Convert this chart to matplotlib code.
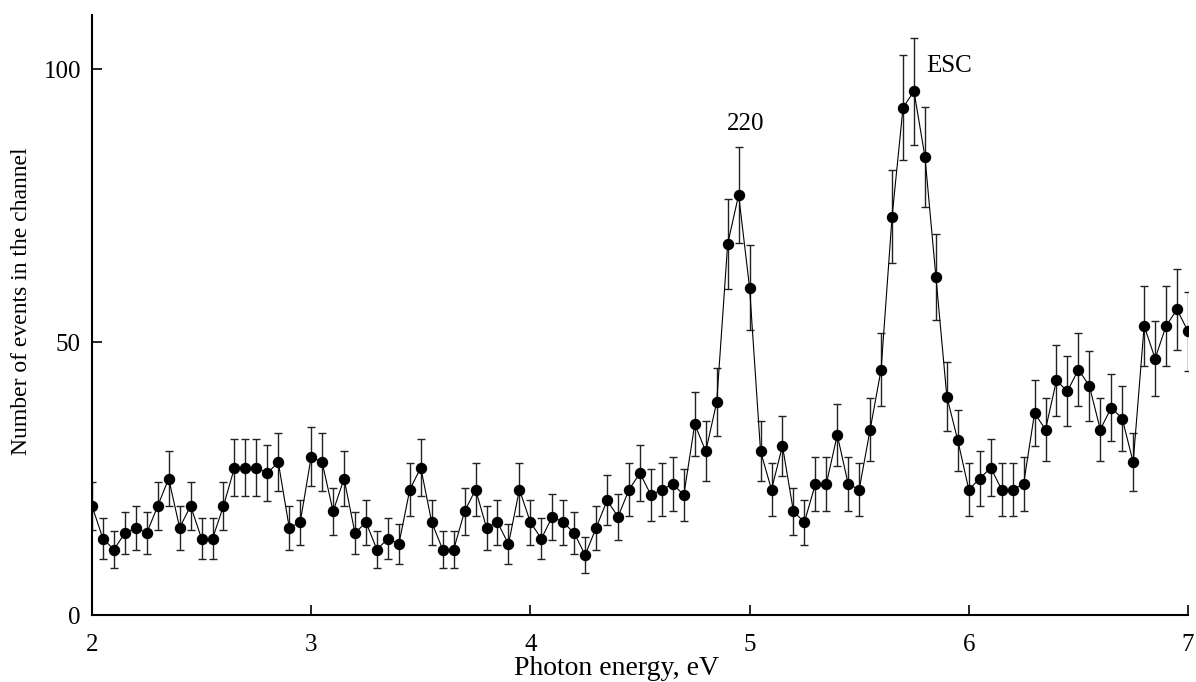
import matplotlib
matplotlib.use("Agg")
import matplotlib.pyplot as plt
import numpy as np

# Spectrum: photon energy (eV) and number of events per channel
energy = [
    2.00, 2.05, 2.10, 2.15, 2.20, 2.25, 2.30, 2.35, 2.40, 2.45,
    2.50, 2.55, 2.60, 2.65, 2.70, 2.75, 2.80, 2.85, 2.90, 2.95,
    3.00, 3.05, 3.10, 3.15, 3.20, 3.25, 3.30, 3.35, 3.40, 3.45,
    3.50, 3.55, 3.60, 3.65, 3.70, 3.75, 3.80, 3.85, 3.90, 3.95,
    4.00, 4.05, 4.10, 4.15, 4.20, 4.25, 4.30, 4.35, 4.40, 4.45,
    4.50, 4.55, 4.60, 4.65, 4.70, 4.75, 4.80, 4.85, 4.90, 4.95,
    5.00, 5.05, 5.10, 5.15, 5.20, 5.25, 5.30, 5.35, 5.40, 5.45,
    5.50, 5.55, 5.60, 5.65, 5.70, 5.75, 5.80, 5.85, 5.90, 5.95,
    6.00, 6.05, 6.10, 6.15, 6.20, 6.25, 6.30, 6.35, 6.40, 6.45,
    6.50, 6.55, 6.60, 6.65, 6.70, 6.75, 6.80, 6.85, 6.90, 6.95,
    7.00,
]
counts = [
    20, 14, 12, 15, 16, 15, 20, 25, 16, 20,
    14, 14, 20, 27, 27, 27, 26, 28, 16, 17,
    29, 28, 19, 25, 15, 17, 12, 14, 13, 23,
    27, 17, 12, 12, 19, 23, 16, 17, 13, 23,
    17, 14, 18, 17, 15, 11, 16, 21, 18, 23,
    26, 22, 23, 24, 22, 35, 30, 39, 68, 77,
    60, 30, 23, 31, 19, 17, 24, 24, 33, 24,
    23, 34, 45, 73, 93, 96, 84, 62, 40, 32,
    23, 25, 27, 23, 23, 24, 37, 34, 43, 41,
    45, 42, 34, 38, 36, 28, 53, 47, 53, 56,
    52,
]
# Poisson error bars
errors = np.sqrt(counts)

peakLabels = ["220", "ESC"]
peakLabelPos = [(4.98, 90.0), (5.91, 100.7)]

plt.rcParams['font.family'] = ['Liberation Serif', 'DejaVu Serif']

fig = plt.figure(figsize=(11.96, 6.82), dpi=100)
ax = fig.add_axes([0.0769, 0.0982, 0.9164, 0.880])

ax.errorbar(energy, counts, yerr=errors, fmt="o-", color="black",
            ecolor="#222222", elinewidth=1.0, capsize=3.2, capthick=1.0,
            markersize=7.2, linewidth=0.8)

for txt, (px, py) in zip(peakLabels, peakLabelPos):
    ax.text(px, py, txt, fontsize=18, ha="center", va="center")

ax.set_xlim(2, 7)
ax.set_ylim(0, 110)
ax.set_xticks([2, 3, 4, 5, 6, 7])
ax.set_yticks([0, 50, 100])
ax.spines["top"].set_visible(False)
ax.spines["right"].set_visible(False)
ax.spines["left"].set_linewidth(1.5)
ax.spines["bottom"].set_linewidth(1.5)
ax.tick_params(axis="x", direction="in", length=7, width=1.2, labelsize=18, pad=14)
ax.tick_params(axis="y", direction="in", length=7, width=1.2, labelsize=18, pad=8)

ax.set_xlabel("Photon energy, eV", fontsize=20)
ax.set_ylabel("Number of events in the channel", fontsize=17)
ax.xaxis.set_label_coords(0.479, -0.068)
ax.yaxis.set_label_coords(-0.0547, 0.523)

fig.savefig("out.png", dpi=100)
